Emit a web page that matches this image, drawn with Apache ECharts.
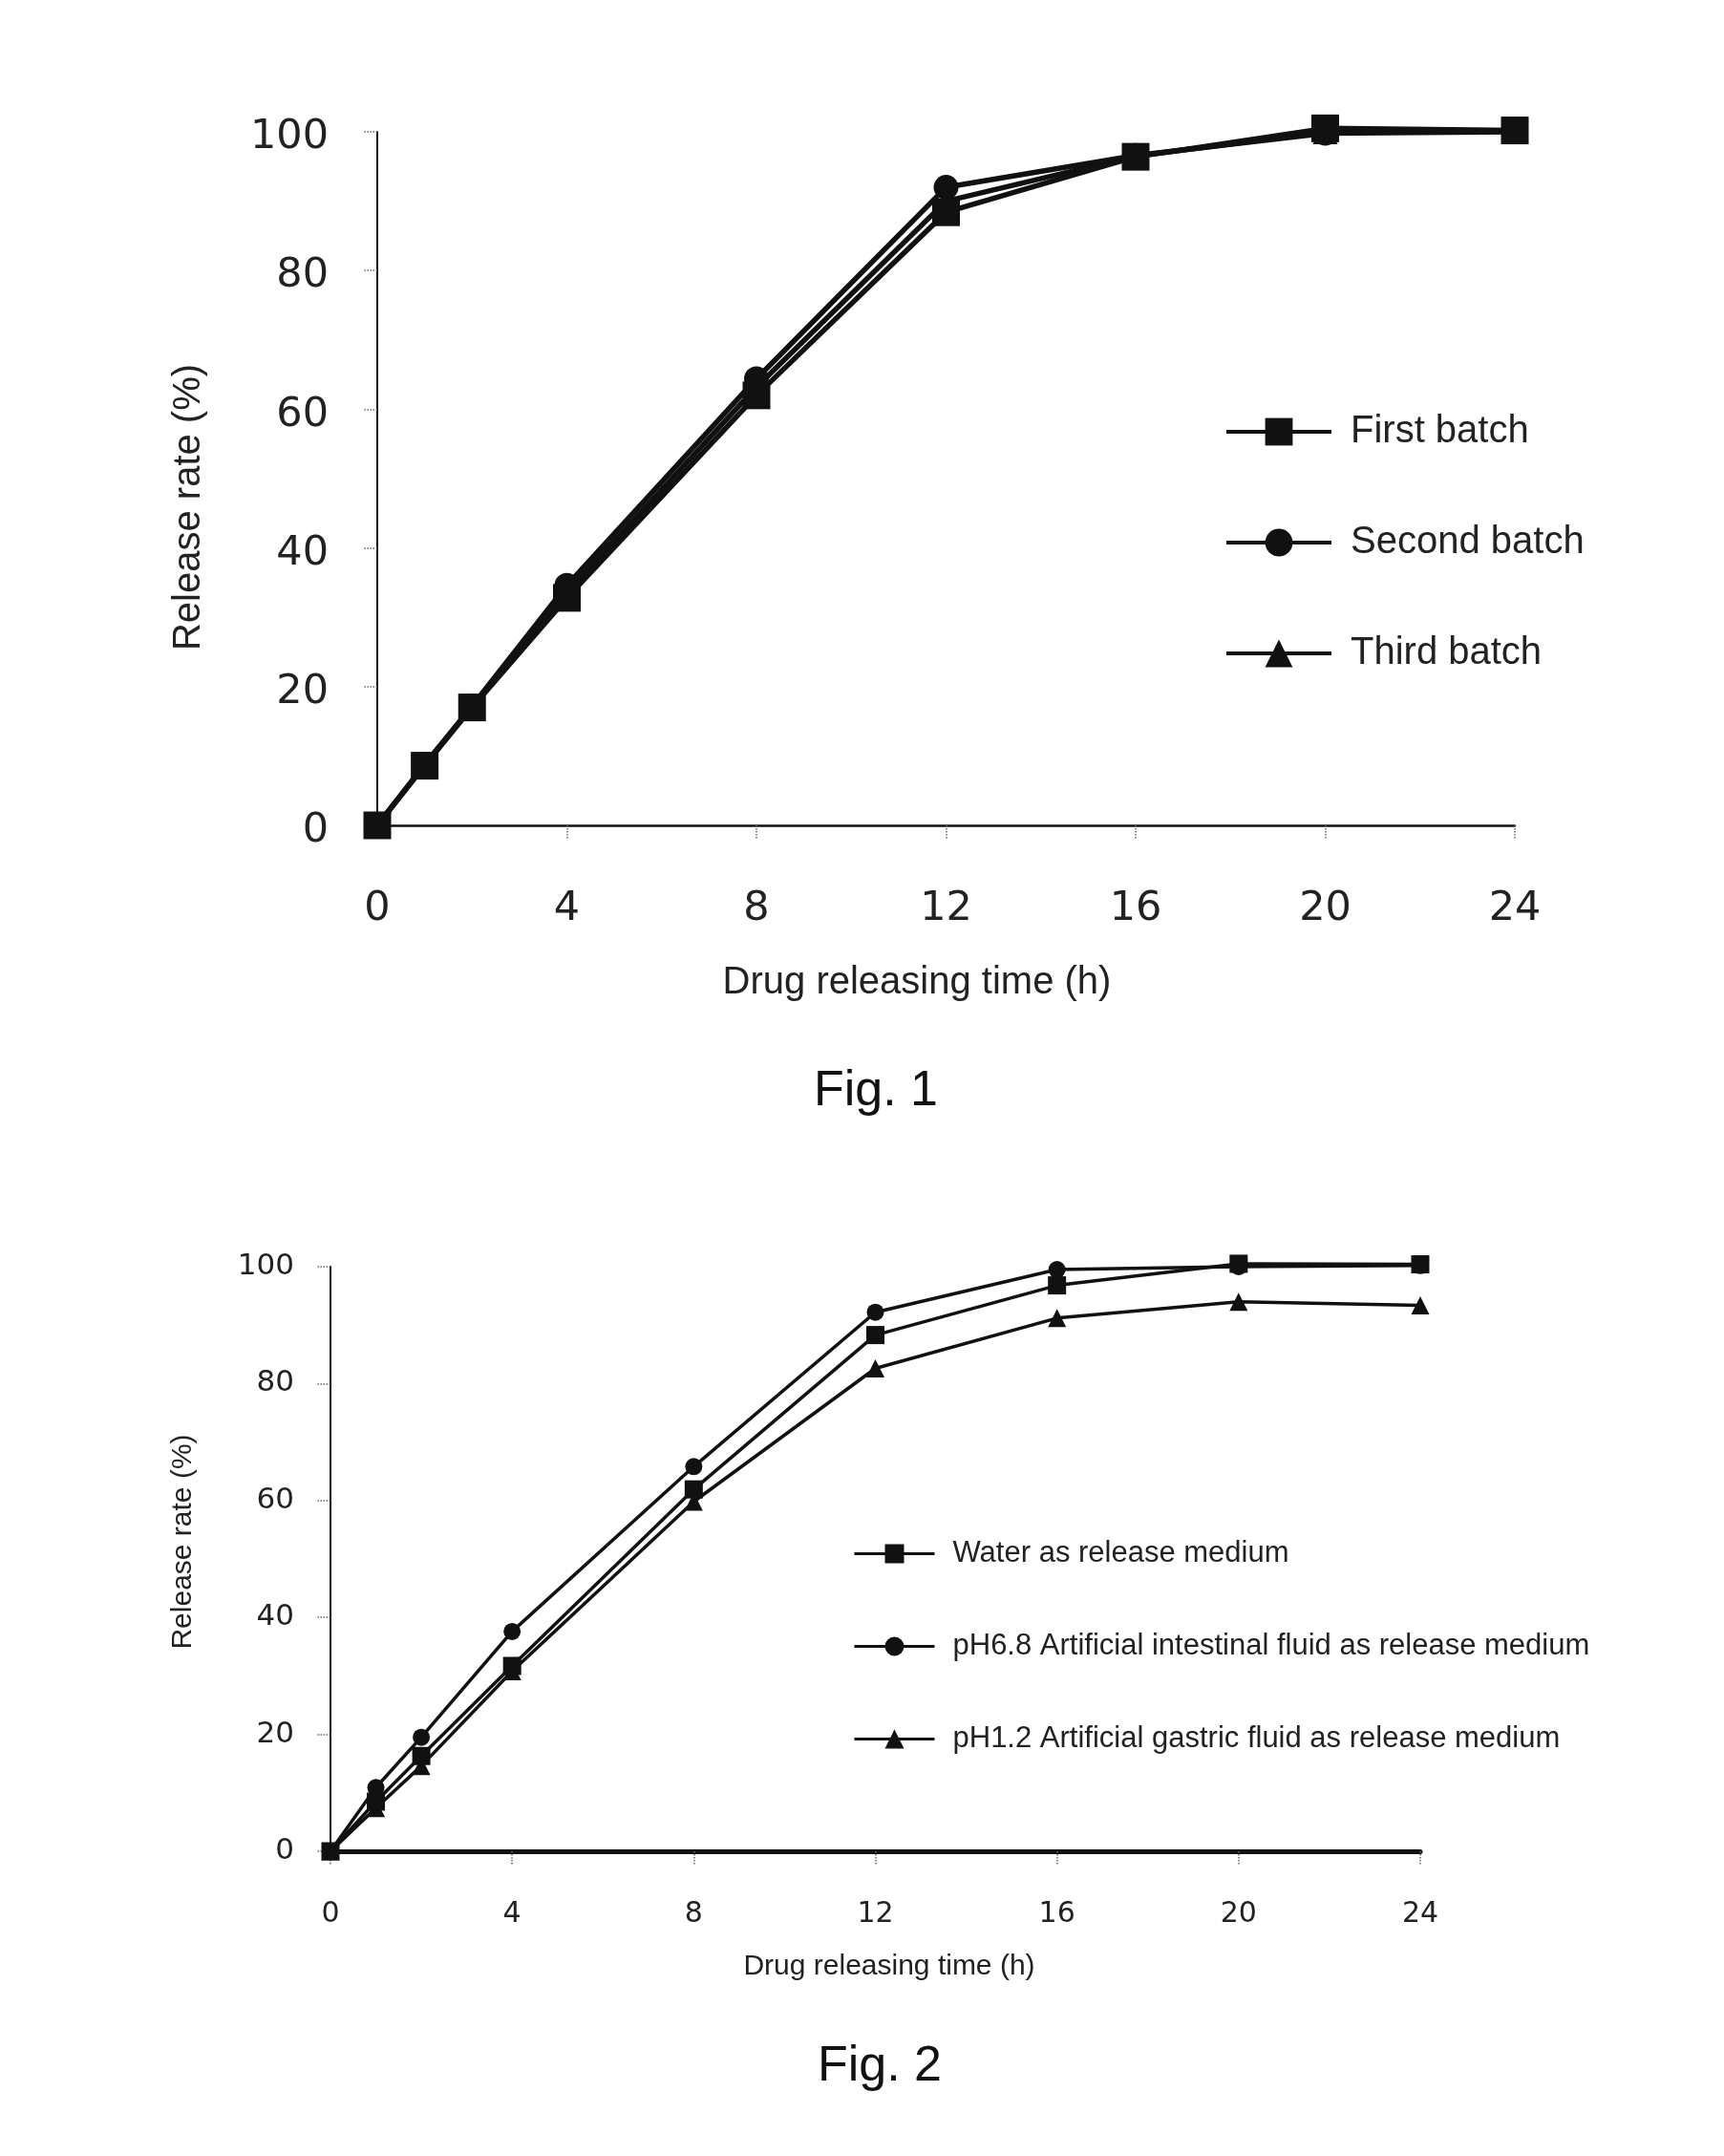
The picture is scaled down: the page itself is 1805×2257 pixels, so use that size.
<!DOCTYPE html>
<html>
<head>
<meta charset="utf-8">
<script src="https://cdn.jsdelivr.net/npm/echarts@6/dist/echarts.min.js"></script>
<style>
html,body{margin:0;padding:0;background:#fff;}
#chart{width:1805px;height:2257px;}
</style>
</head>
<body>
<div id="chart"></div>
<script>
// ---- data ----
const hours = [0, 1, 2, 4, 8, 12, 16, 20, 24];
const xTicks = [0, 4, 8, 12, 16, 20, 24];
const yTicks = [0, 20, 40, 60, 80, 100];

const fig1Names = ['First batch', 'Second batch', 'Third batch'];
const fig1First  = [0, 8.6, 17.0, 32.8, 62.0, 88.4, 96.4, 100.5, 100.2];
const fig1Second = [0, 8.8, 17.2, 34.6, 64.4, 92.0, 96.6, 99.8, 100.0];
const fig1Third  = [0, 8.7, 17.1, 33.6, 63.2, 90.0, 96.5, 100.0, 100.1];

const fig2Names = ['Water as release medium', 'pH6.8 Artificial intestinal fluid as release medium', 'pH1.2 Artificial gastric fluid as release medium'];
const fig2Water      = [0, 8.5, 16.3, 31.7, 61.9, 88.3, 96.8, 100.5, 100.4];
const fig2Intestinal = [0, 10.9, 19.5, 37.6, 65.8, 92.2, 99.5, 100.0, 100.2];
const fig2Gastric    = [0, 7.4, 14.6, 30.8, 59.8, 82.6, 91.2, 94.0, 93.4];

const figTitles = ['Fig. 1', 'Fig. 2'];
const xName = 'Drug releasing time (h)';
const yName = 'Release rate (%)';

// ---- helpers ----
const pair = (ys) => hours.map((h, i) => [h, ys[i]]);
const tickFont = 'DejaVu Sans';
const textFont = 'Liberation Sans';

function lineSeries(name, ys, idx, symbol, size, width, z) {
  return {
    name: name, type: 'line', xAxisIndex: idx, yAxisIndex: idx,
    data: pair(ys), symbol: symbol, symbolSize: size, clip: false,
    lineStyle: {color: '#111', width: width},
    itemStyle: {color: '#111', borderWidth: 0},
    animation: false, z: z
  };
}

function xAxisCfg(idx, fs, margin, nameFs, nameGap, namePad, lineW) {
  return {
    type: 'value', gridIndex: idx, min: 0, max: 24, interval: 4,
    name: xName, nameLocation: 'middle', nameGap: nameGap,
    nameTextStyle: {fontFamily: textFont, fontSize: nameFs, color: '#222', lineHeight: nameFs, padding: namePad},
    axisLine: {show: true, onZero: false, lineStyle: {color: '#111', width: lineW}},
    axisTick: {show: true, inside: false, length: 14, lineStyle: {color: '#666', width: 1.5, type: 'dotted'}},
    axisLabel: {fontFamily: tickFont, fontSize: fs, color: '#222', margin: margin},
    splitLine: {show: false}
  };
}
function yAxisCfg(idx, fs, margin, labelVA, labelLH, nameFs, nameGap, namePad, lineW) {
  return {
    type: 'value', gridIndex: idx, min: 0, max: 100, interval: 20,
    name: yName, nameLocation: 'middle', nameGap: nameGap,
    nameTextStyle: {fontFamily: textFont, fontSize: nameFs, color: '#222', lineHeight: nameFs, padding: namePad},
    axisLine: {show: true, onZero: false, lineStyle: {color: '#111', width: lineW}},
    axisTick: {show: true, inside: false, length: 14, lineStyle: {color: '#666', width: 1.5, type: 'dotted'}},
    axisLabel: {fontFamily: tickFont, fontSize: fs, color: '#222', margin: margin,
                verticalAlign: labelVA, lineHeight: labelLH},
    splitLine: {show: false}
  };
}

const chart = echarts.init(document.getElementById('chart'), null, {renderer: 'canvas'});
chart.setOption({
  backgroundColor: '#fff',
  animation: false,
  title: [
    {text: figTitles[0], left: 917, top: 1117, textAlign: 'center', padding: 0,
     textStyle: {fontFamily: textFont, fontSize: 52, fontWeight: 'normal', color: '#111', lineHeight: 52}},
    {text: figTitles[1], left: 921, top: 2138, textAlign: 'center', padding: 0,
     textStyle: {fontFamily: textFont, fontSize: 52, fontWeight: 'normal', color: '#111', lineHeight: 52}}
  ],
  grid: [
    {left: 395, top: 138, width: 1191, height: 726, containLabel: false},
    {left: 346, top: 1326, width: 1141, height: 612, containLabel: false}
  ],
  xAxis: [
    xAxisCfg(0, 43, 66, 40, 145, [0, 61, 0, 0], 2.5),
    xAxisCfg(1, 30, 51, 30, 106, [0, 0, 0, 29], 5)
  ],
  yAxis: [
    yAxisCfg(0, 43, 51, 'top', 12, 40, 177, [0, 60, 0, 0], 2),
    yAxisCfg(1, 31, 38, 'middle', 31, 30, 139, [0, 0, 0, 36], 2)
  ],
  legend: [
    {data: fig1Names, orient: 'vertical', left: 1282, top: 432, padding: 0,
     itemWidth: 110, itemHeight: 36, itemGap: 76,
     lineStyle: {width: 4, color: '#111'},
     textStyle: {fontFamily: textFont, fontSize: 40, color: '#222', padding: [0, 0, 0, 15]}},
    {data: fig2Names, orient: 'vertical', left: 893, top: 1611, padding: 0,
     itemWidth: 84, itemHeight: 25, itemGap: 66,
     lineStyle: {width: 3, color: '#111'},
     textStyle: {fontFamily: textFont, fontSize: 31, color: '#222', padding: [0, 0, 0, 14]}}
  ],
  series: [
    lineSeries(fig1Names[2], fig1Third, 0, 'triangle', 26, 5.5, 3),
    lineSeries(fig1Names[1], fig1Second, 0, 'circle', 26, 5.5, 4),
    lineSeries(fig1Names[0], fig1First, 0, 'rect', 29, 5.5, 5),
    lineSeries(fig2Names[2], fig2Gastric, 1, 'triangle', 19, 3.5, 3),
    lineSeries(fig2Names[1], fig2Intestinal, 1, 'circle', 18, 3.5, 4),
    lineSeries(fig2Names[0], fig2Water, 1, 'rect', 19, 3.5, 5)
  ]
});
</script>
</body>
</html>
